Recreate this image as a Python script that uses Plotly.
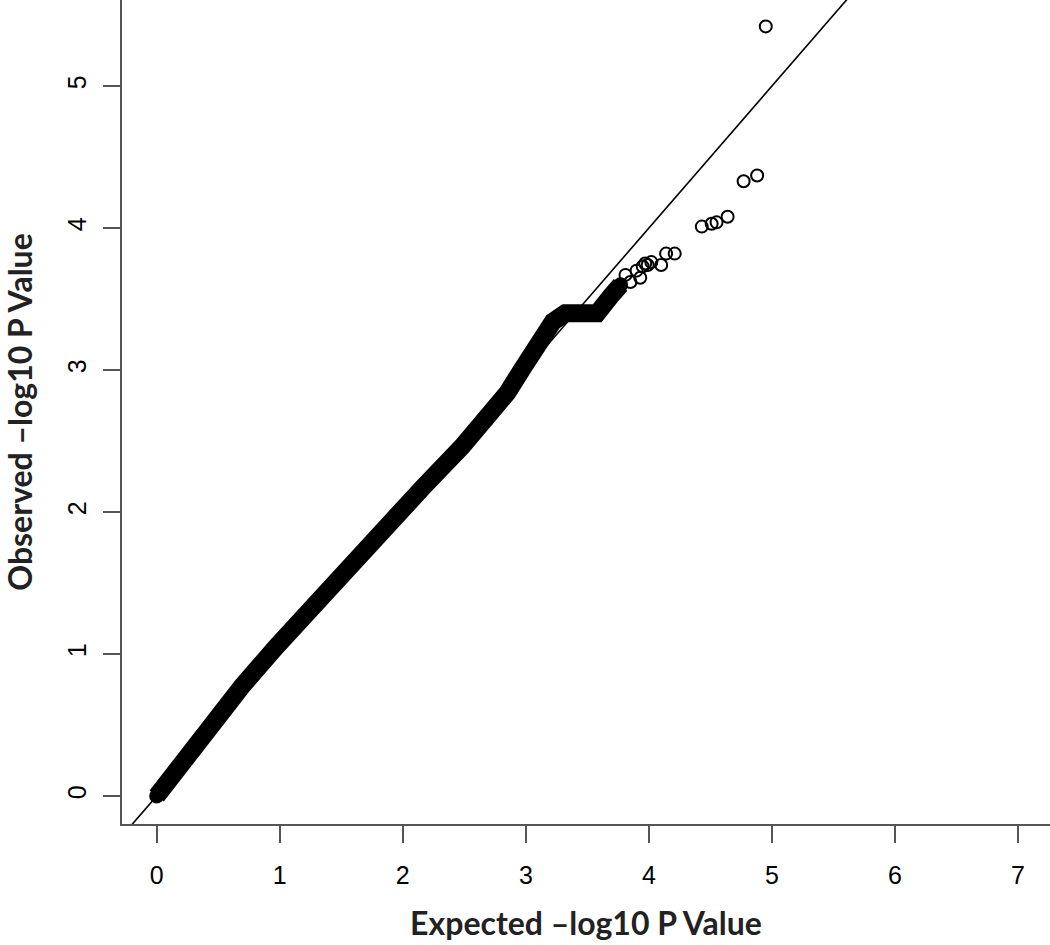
import plotly.graph_objects as go

# Dense band of observed vs expected (-log10 P)
band_x = [0.00, 0.20, 0.39, 0.69, 0.97, 1.31, 1.64, 1.90, 2.17, 2.48, 2.68, 2.85, 2.98, 3.12, 3.22, 3.32, 3.45, 3.58, 3.69, 3.77]
band_y = [0.00, 0.23, 0.44, 0.77, 1.05, 1.38, 1.69, 1.92, 2.18, 2.46, 2.65, 2.84, 3.02, 3.21, 3.34, 3.40, 3.40, 3.40, 3.52, 3.60]

# Individual tail points (open circles)
tail_x = [3.69, 3.74, 3.77, 3.81, 3.85, 3.90, 3.93, 3.95, 3.97, 3.99, 4.02, 4.10, 4.14, 4.21, 4.43, 4.51, 4.55, 4.64, 4.77, 4.88, 4.95]
tail_y = [3.52, 3.56, 3.60, 3.67, 3.62, 3.70, 3.65, 3.73, 3.75, 3.74, 3.76, 3.74, 3.82, 3.82, 4.01, 4.03, 4.04, 4.08, 4.33, 4.37, 5.42]

# Reference line y = x
ref_x = [-1, 8]
ref_y = [-1, 8]

x_ticks = [0, 1, 2, 3, 4, 5, 6, 7]
y_ticks = [0, 1, 2, 3, 4, 5]

fig = go.Figure()
fig.add_trace(go.Scatter(x=ref_x, y=ref_y, mode="lines",
                         line=dict(color="black", width=1.6), hoverinfo="skip"))
fig.add_trace(go.Scatter(x=band_x, y=band_y, mode="lines+markers",
                         line=dict(color="black", width=18),
                         marker=dict(color="black", size=15, symbol="circle"),
                         cliponaxis=False))
fig.add_trace(go.Scatter(x=tail_x, y=tail_y, mode="markers",
                         marker=dict(symbol="circle-open", size=12, color="black",
                                     line=dict(width=2, color="black"))))

axis_common = dict(showgrid=False, zeroline=False, showline=True,
                   linecolor="#555555", linewidth=2, ticks="outside",
                   ticklen=17, tickwidth=2, tickcolor="#555555",
                   tickfont=dict(family="Liberation Sans, Arial", size=25, color="black"),
                   mirror=False, automargin=False)

fig.update_layout(
    width=1050, height=945,
    margin=dict(l=122, r=0, t=0, b=121),
    paper_bgcolor="white", plot_bgcolor="white",
    showlegend=False,
    xaxis=dict(range=[-0.282, 7.26], tickvals=x_ticks, ticktext=[str(v) for v in x_ticks],
               ticklabelstandoff=11,
               title=dict(text="<b>Expected \u2013log10 P Value</b>", standoff=25,
                          font=dict(family="Lato, Open Sans", size=32, color="#222222")),
               **axis_common),
    yaxis=dict(range=[-0.197, 5.606], tickvals=y_ticks, ticktext=[str(v) for v in y_ticks],
               tickangle=-90, ticklabelstandoff=7,
               title=dict(text="<b>Observed \u2013log10 P Value</b>", standoff=35,
                          font=dict(family="Lato, Open Sans", size=32, color="#222222")),
               **axis_common),
)

fig.write_html("out.html", config={"displayModeBar": False},
               post_script="document.body.style.margin='0';document.body.style.overflow='hidden';")
